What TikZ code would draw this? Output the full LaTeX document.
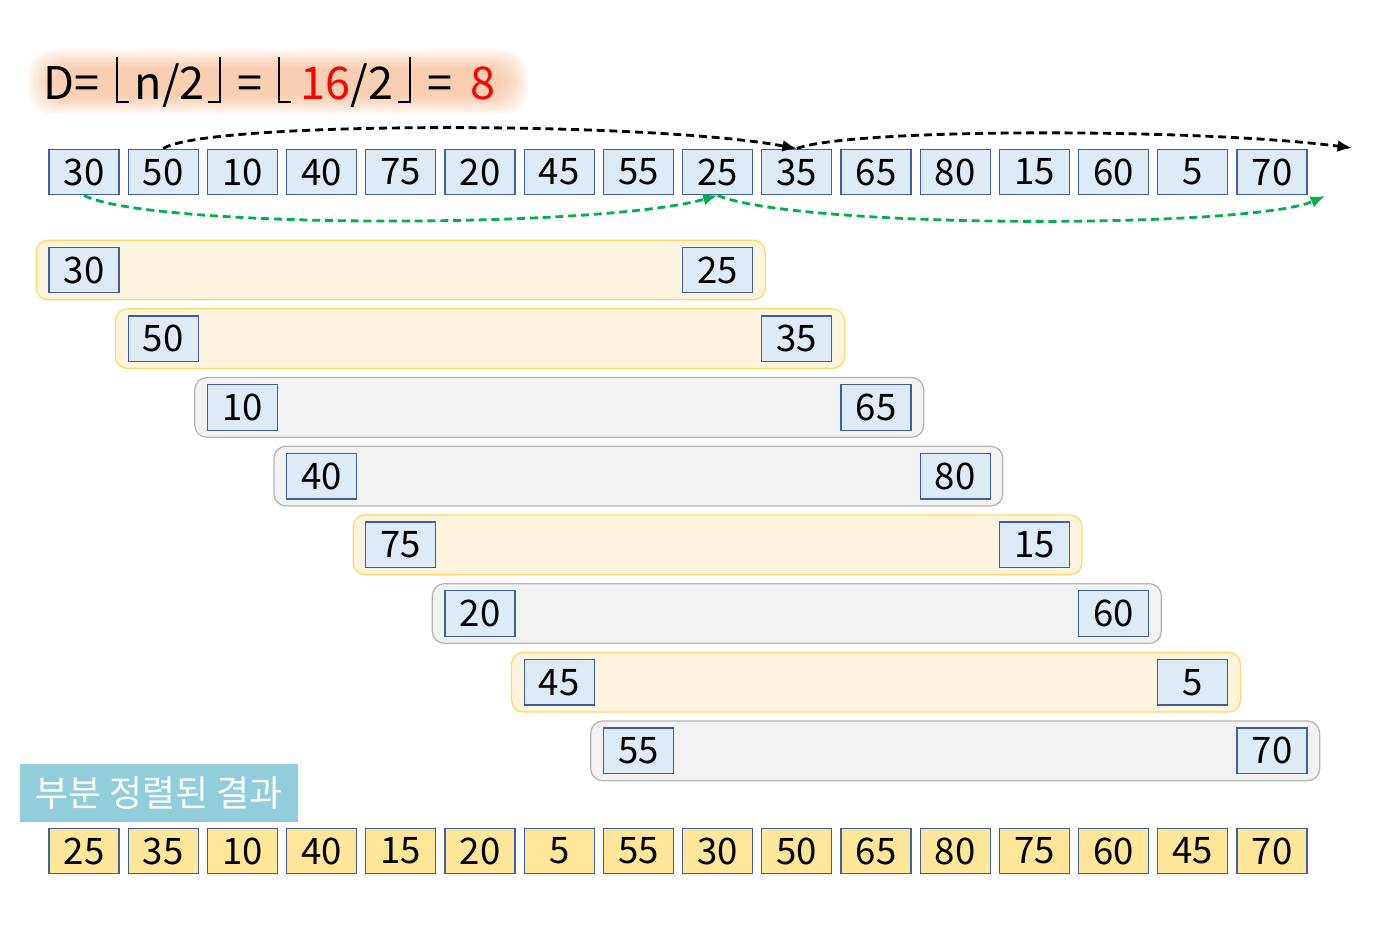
\documentclass[tikz,border=0pt]{standalone}
\usepackage{fontspec}
\setmainfont{Noto Sans CJK KR}
\usetikzlibrary{positioning,arrows.meta,fit,backgrounds}
\definecolor{cellblue}{HTML}{DEEAF6}
\definecolor{cellline}{HTML}{3E5F9C}
\definecolor{cellgold}{HTML}{FFE699}
\definecolor{bandyellow}{HTML}{FFF5DE}
\definecolor{bandyline}{HTML}{FFD966}
\definecolor{bandgray}{HTML}{F2F2F2}
\definecolor{bandgline}{HTML}{B4B4B4}
\definecolor{labelblue}{HTML}{92CDDC}
\definecolor{glowc}{HTML}{F4B183}
\definecolor{arrowgreen}{HTML}{00B050}
% floor brackets
\newcommand{\lflr}{\rule[-3pt]{1.3pt}{33pt}\rule[-3pt]{8pt}{1.3pt}}
\newcommand{\rflr}{\rule[-3pt]{8pt}{1.3pt}\rule[-3pt]{1.3pt}{33pt}}
\begin{document}
\begin{tikzpicture}
[ x=0.025cm, y=-0.025cm
, cell/.style={rectangle, draw=cellline, fill=cellblue, line width=0.9pt, minimum width=1.75cm, minimum height=1.14cm, inner sep=0pt, font=\fontsize{26}{30}\selectfont}
, result/.style={cell, fill=cellgold}
, band/.style={rectangle, rounded corners=3mm, line width=0.9pt, inner xsep=0.3cm, inner ysep=0.16cm}
, yband/.style={band, draw=bandyline, fill=bandyellow}
, gband/.style={band, draw=bandgline, fill=bandgray}
, hop/.style={dashed, dash pattern=on 0.2cm off 0.12cm, line width=2pt, -{Latex[length=3.6mm,width=3mm]}}
]
\useasboundingbox (0,0) rectangle (1380,941);
% Title with glow:
\foreach \s in {0,...,9}
  \fill[glowc, opacity=0.09, rounded corners=6mm] (28+\s*2.5,50+\s*2) rectangle (528-\s*2.5,114-\s*2);
\node (title) [anchor=base west, inner sep=0pt, font=\fontsize{32}{36}\selectfont] at (43,99)
  {D=\hspace{12pt}\lflr\hspace{4pt}n/2\hspace{2pt}\rflr\hspace{12pt}=\hspace{11pt}\lflr\hspace{7pt}{\color{red}16}/2\hspace{3pt}\rflr\hspace{12pt}=\hspace{13pt}{\color{red}8}};
% First row:
\foreach \v [count=\i] in {30,50,10,40,75,20,45,55,25,35,65,80,15,60,5,70}
  \node (a\i) [cell] at ({84+79.2*(\i-1)},172) {\v};
% Pairs at distance 8:
\foreach \i in {1,...,8} {
  \pgfmathtruncatemacro{\j}{\i+8}
  \pgfmathsetmacro{\rowy}{270+68.7*(\i-1)}
  \node (l\i) [cell] at ({84+79.2*(\i-1)},\rowy) {};
  \node (r\i) [cell] at ({84+79.2*(\j-1)},\rowy) {};
}
\foreach \v [count=\i] in {30,50,10,40,75,20,45,55}
  \node at (l\i) [font=\fontsize{26}{30}\selectfont] {\v};
\foreach \v [count=\i] in {25,35,65,80,15,60,5,70}
  \node at (r\i) [font=\fontsize{26}{30}\selectfont] {\v};
\begin{scope}[on background layer]
\foreach \i/\k in {1/yband,2/yband,3/gband,4/gband,5/yband,6/gband,7/yband,8/gband}
  \node (band\i) [\k, fit=(l\i)(r\i)] {};
\end{scope}
% Result:
\node (label) [rectangle, fill=labelblue, minimum width=6.95cm, minimum height=1.45cm, text=white, font=\fontsize{25.5}{30}\selectfont] at (159,793) {부분 정렬된 결과};
\foreach \v [count=\i] in {25,35,10,40,15,20,5,55,30,50,65,80,75,60,45,70}
  \node (b\i) [result] at ({84+79.2*(\i-1)},851) {\v};
% Hops:
\coordinate (blackend) at (1352,148);
\coordinate (greenend) at (1325,196);
\draw [hop] (a2.north) .. controls (205,121) and (650,121) .. (a10.north);
\draw [hop] (a10.north) .. controls (850,128) and (1200,128) .. (blackend);
\draw [hop, arrowgreen] (a1.south) .. controls (150,229) and (600,229) .. (a9.south);
\draw [hop, arrowgreen] (a9.south) .. controls (800,229) and (1250,229) .. (greenend);
\end{tikzpicture}
\end{document}
